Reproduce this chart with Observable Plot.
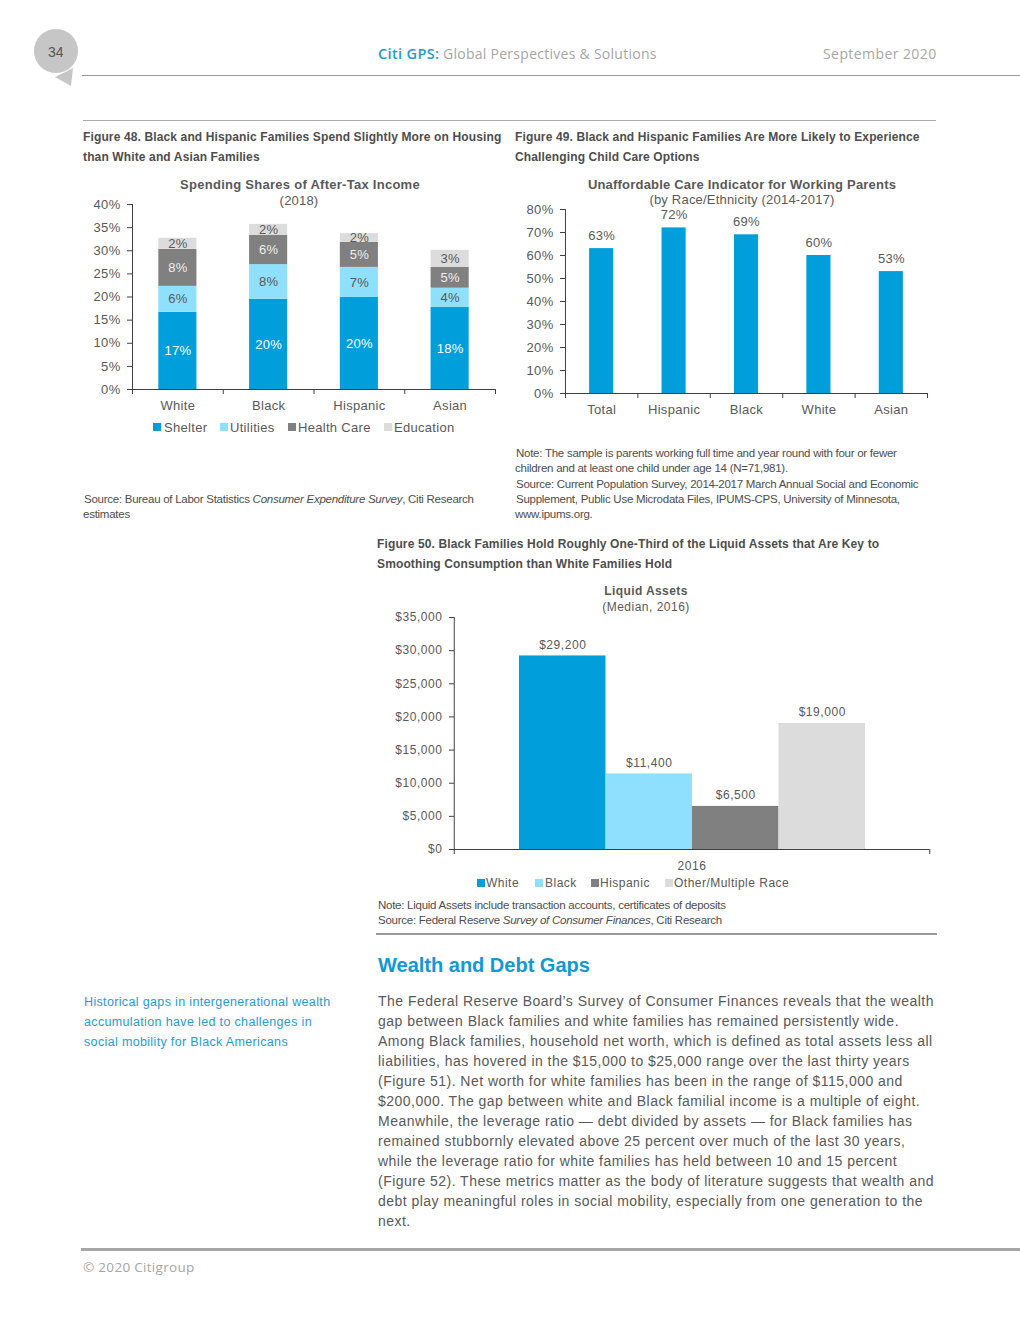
<!DOCTYPE html>
<html><head><meta charset="utf-8">
<script src="https://cdn.jsdelivr.net/npm/d3@7"></script>
<script src="https://cdn.jsdelivr.net/npm/@observablehq/plot@0.6"></script>
<style>
html,body{margin:0;padding:0;background:#fff}
#page{position:relative;width:1020px;height:1320px;overflow:hidden;font-family:"Liberation Sans",Arial,sans-serif;color:#595959}
.t{position:absolute;white-space:nowrap;line-height:1;transform:translateY(-50%)}
.c{transform:translate(-50%,-50%)}
.r{position:absolute}
.plot{position:absolute}
.plot svg{display:block;overflow:visible}
</style></head><body><div id="page"></div>
<script>
// ---------- Data ----------
const groups48 = ["White","Black","Hispanic","Asian"];
const items48 = ["Shelter","Utilities","Health Care","Education"];
const shelter48 = [16.7,19.5,19.9,17.8];
const utilities48 = [5.6,7.5,6.5,4.1];
const health48 = [8.0,6.3,5.4,4.5];
const education48 = [2.4,2.4,1.9,3.7];
const labels48 = [[17,6,8,2],[20,8,6,2],[20,7,5,2],[18,4,5,3]];
const groups49 = ["Total","Hispanic","Black","White","Asian"];
const values49 = [63,72,69,60,53];
const groups50 = ["White","Black","Hispanic","Other/Multiple Race"];
const values50 = [29200,11400,6500,19000];
const colors = ["#009fdb","#8fdfff","#808080","#dcdcdc"];

const page = document.getElementById("page");
function T(x,y,html,s={},cls=""){const d=document.createElement("div");d.className="t "+cls;d.style.left=x+"px";d.style.top=y+"px";d.innerHTML=html;Object.assign(d.style,s);page.appendChild(d);return d;}
function R(x,y,w,h,c){const d=document.createElement("div");d.className="r";Object.assign(d.style,{left:x+"px",top:y+"px",width:w+"px",height:h+"px",background:c});page.appendChild(d);}
function P(x,y,el){const d=document.createElement("div");d.className="plot";d.style.left=x+"px";d.style.top=y+"px";d.appendChild(el);page.appendChild(d);}
function legend(y,names,swatchX,textX,s){names.forEach((n,i)=>{R(swatchX[i],y-4,8,8,colors[i]);T(textX[i],y,n,s);});}

// ---------- Page furniture ----------
const tail=document.createElementNS("http://www.w3.org/2000/svg","svg");
tail.setAttribute("width",100);tail.setAttribute("height",100);tail.style.cssText="position:absolute;left:0;top:0";
tail.innerHTML='<path d="M55 77 L73 68 L71 86 Z" fill="#c6c6c6"/><circle cx="56" cy="51" r="22.5" fill="#c6c6c6" stroke="#fff" stroke-width="1"/>';
page.appendChild(tail);
T(48,52,"34",{fontSize:"14px",color:"#555"});
R(82,75,938,1,"#999");
T(378,54,"Citi GPS:",{fontFamily:"'Open Sans'",fontWeight:"600",fontSize:"14.5px",color:"#1f9ccf",letterSpacing:".35px"});
T(443,54,"Global Perspectives &amp; Solutions",{fontFamily:"'Open Sans'",fontSize:"14px",color:"#a6a6a6",letterSpacing:".27px"});
T(823,54,"September 2020",{fontFamily:"'Open Sans'",fontSize:"14px",color:"#a6a6a6",letterSpacing:".42px"});
R(83,120,853,1,"#aaa");

// Figure titles
const figS={fontWeight:"700",fontSize:"12px",color:"#4d4d4d",letterSpacing:".13px"};
T(83,137,"Figure 48. Black and Hispanic Families Spend Slightly More on Housing",figS);
T(83,157,"than White and Asian Families",figS);
T(515,137,"Figure 49. Black and Hispanic Families Are More Likely to Experience",figS);
T(515,157,"Challenging Child Care Options",figS);
T(377,544,"Figure 50. Black Families Hold Roughly One-Third of the Liquid Assets that Are Key to",figS);
T(377,564,"Smoothing Consumption than White Families Hold",figS);

// ---------- Figure 48 ----------
const tickStyle = {fontFamily:"'Liberation Sans',Arial,sans-serif",color:"#595959",background:"transparent"};
const rows48 = groups48.flatMap((g,i)=>items48.map((it,j)=>({group:g,item:it,value:[shelter48,utilities48,health48,education48][j][i],label:labels48[i][j]+"%"})));
const step48=(495-132)/4;
P(80,195,Plot.plot({
  width:420,height:224,marginLeft:52,marginRight:5,marginTop:9,marginBottom:30,
  style:{...tickStyle,fontSize:"13px",letterSpacing:".3px"},
  x:{domain:groups48,paddingInner:.58,paddingOuter:.29,round:false,label:null},
  y:{domain:[0,40],label:null},
  color:{domain:items48,range:colors},
  marks:[
    Plot.barY(rows48,{x:"group",y:"value",fill:"item",order:items48}),
    Plot.text(rows48,Plot.stackY({x:"group",y:"value",order:items48,text:"label",fill:d=>d.item==="Shelter"?"#fff":d.item==="Health Care"?"#eeeeee":"#595959"})),
    Plot.axisY({ticks:d3.range(0,41,5),tickFormat:d=>d+"%",tickSize:5,tickPadding:7,label:null,stroke:"#404040"}),
    Plot.axisX({tickSize:0,tickPadding:11,label:null}),
    Plot.ruleY([0],{stroke:"#404040"}),
    Plot.ruleX(groups48.slice(0,1),{x:d=>d,y1:0,y2:40,dx:-step48/2,stroke:"#404040"}),
    Plot.ruleX(groups48,{x:d=>d,y1:0,y2:0,insetBottom:-5,dx:-step48/2,stroke:"#404040"}),
    Plot.ruleX(groups48.slice(-1),{x:d=>d,y1:0,y2:0,insetBottom:-5,dx:step48/2,stroke:"#404040"})
  ]
}));
T(300,184,"Spending Shares of After-Tax Income",{fontWeight:"700",fontSize:"13px",color:"#595959",letterSpacing:".27px"},"c");
T(299,200,"(2018)",{fontSize:"13px",color:"#595959",letterSpacing:".2px"},"c");
legend(427,items48,[153,220,288,384],[164,230,298,394],{fontSize:"13px",letterSpacing:".3px"});
const noteS={fontSize:"11.5px",color:"#4d4d4d",letterSpacing:"-.26px"};
T(84,499.5,"Source: Bureau of Labor Statistics <i>Consumer Expenditure Survey</i>, Citi Research",noteS);
T(83,514.5,"estimates",noteS);

// ---------- Figure 49 ----------
const rows49 = groups49.map((g,i)=>({group:g,value:values49[i]}));
const step49=(927-565)/5;
P(510,200,Plot.plot({
  width:425,height:223,marginLeft:55,marginRight:8,marginTop:9,marginBottom:30,
  style:{...tickStyle,fontSize:"13px",letterSpacing:".3px"},
  x:{domain:groups49,paddingInner:.667,paddingOuter:.333,round:false,label:null},
  y:{domain:[0,80],label:null},
  marks:[
    Plot.barY(rows49,{x:"group",y:"value",fill:colors[0]}),
    Plot.text(rows49,{x:"group",y:"value",text:d=>d.value+"%",dy:-13,fill:"#595959"}),
    Plot.axisY({ticks:d3.range(0,81,10),tickFormat:d=>d+"%",tickSize:5,tickPadding:7,label:null,stroke:"#404040"}),
    Plot.axisX({tickSize:0,tickPadding:11,label:null}),
    Plot.ruleY([0],{stroke:"#404040"}),
    Plot.ruleX(groups49.slice(0,1),{x:d=>d,y1:0,y2:80,dx:-step49/2,stroke:"#404040"}),
    Plot.ruleX(groups49,{x:d=>d,y1:0,y2:0,insetBottom:-5,dx:-step49/2,stroke:"#404040"}),
    Plot.ruleX(groups49.slice(-1),{x:d=>d,y1:0,y2:0,insetBottom:-5,dx:step49/2,stroke:"#404040"})
  ]
}));
T(742,184,"Unaffordable Care Indicator for Working Parents",{fontWeight:"700",fontSize:"13px",color:"#595959",letterSpacing:".2px"},"c");
T(742,199,"(by Race/Ethnicity (2014-2017)",{fontSize:"13px",color:"#595959",letterSpacing:".2px"},"c");
T(516,453.5,"Note: The sample is parents working full time and year round with four or fewer",noteS);
T(515,468.5,"children and at least one child under age 14 (N=71,981).",noteS);
T(516,484.5,"Source: Current Population Survey, 2014-2017 March Annual Social and Economic",noteS);
T(516,499.5,"Supplement, Public Use Microdata Files, IPUMS-CPS, University of Minnesota,",noteS);
T(515,514.5,"www.ipums.org.",noteS);

// ---------- Figure 50 ----------
const rows50 = groups50.map((g,i)=>({group:g,value:values50[i]}));
P(376,610,Plot.plot({
  width:560,height:269,marginLeft:78,marginRight:7,marginTop:7,marginBottom:30,
  style:{...tickStyle,fontSize:"12px",letterSpacing:".55px"},
  x:{domain:groups50,padding:0,insetLeft:65,insetRight:64,round:false,axis:null,label:null},
  y:{domain:[0,35000],label:null},
  color:{domain:groups50,range:colors},
  marks:[
    Plot.barY(rows50,{x:"group",y:"value",fill:"group"}),
    Plot.text(rows50,{x:"group",y:"value",text:d=>"$"+d3.format(",")(d.value),dy:-11,fill:"#595959"}),
    Plot.axisY({ticks:d3.range(0,35001,5000),tickFormat:d=>"$"+d3.format(",")(d),tickSize:5,tickPadding:7,label:null,stroke:"#404040"}),
    Plot.text(["2016"],{frameAnchor:"bottom",text:d=>d,dy:20,fill:"#595959"}),
    Plot.ruleY([0],{stroke:"#404040"}),
    Plot.ruleX(groups50.slice(0,1),{x:d=>d,y1:0,y2:35000,dx:-108.5,stroke:"#404040"}),
    Plot.ruleX(groups50.slice(0,1),{x:d=>d,y1:0,y2:0,insetBottom:-5,dx:-108.5,stroke:"#404040"}),
    Plot.ruleX(groups50.slice(-1),{x:d=>d,y1:0,y2:0,insetBottom:-5,dx:107.5,stroke:"#404040"})
  ]
}));
T(646,591,"Liquid Assets",{fontWeight:"700",fontSize:"12px",color:"#595959",letterSpacing:".4px"},"c");
T(646,607,"(Median, 2016)",{fontSize:"12px",color:"#595959",letterSpacing:".5px"},"c");
legend(883,groups50,[477,535,591,665],[486,545,600,674],{fontSize:"12px",letterSpacing:".48px"});
T(378,906,"Note: Liquid Assets include transaction accounts, certificates of deposits",noteS);
T(378,921,"Source: Federal Reserve <i>Survey of Consumer Finances</i>, Citi Research",noteS);
R(376,933,561,2,"#999");

// ---------- Text section ----------
T(378,965,"Wealth and Debt Gaps",{fontWeight:"700",fontSize:"20px",color:"#0f9ad6"});
const sideLines=["Historical gaps in intergenerational wealth","accumulation have led to challenges in","social mobility for Black Americans"];
sideLines.forEach((l,i)=>T(84,1002+20*i,l,{fontSize:"12.5px",color:"#1f9ccf",letterSpacing:".35px"}));
const body=["The Federal Reserve Board\u2019s Survey of Consumer Finances reveals that the wealth",
"gap between Black families and white families has remained persistently wide.",
"Among Black families, household net worth, which is defined as total assets less all",
"liabilities, has hovered in the $15,000 to $25,000 range over the last thirty years",
"(Figure 51). Net worth for white families has been in the range of $115,000 and",
"$200,000. The gap between white and Black familial income is a multiple of eight.",
"Meanwhile, the leverage ratio \u2014 debt divided by assets \u2014 for Black families has",
"remained stubbornly elevated above 25 percent over much of the last 30 years,",
"while the leverage ratio for white families has held between 10 and 15 percent",
"(Figure 52). These metrics matter as the body of literature suggests that wealth and",
"debt play meaningful roles in social mobility, especially from one generation to the",
"next."];
body.forEach((l,i)=>T(378,1001+20*i,l,{fontSize:"14px",color:"#595959",letterSpacing:".47px"}));
R(81,1248,939,3,"#a6a6a6");
T(83,1268,"\u00a9 2020 Citigroup",{fontFamily:"'Open Sans'",fontSize:"13.5px",color:"#a6a6a6",letterSpacing:".3px"});
</script></body></html>
